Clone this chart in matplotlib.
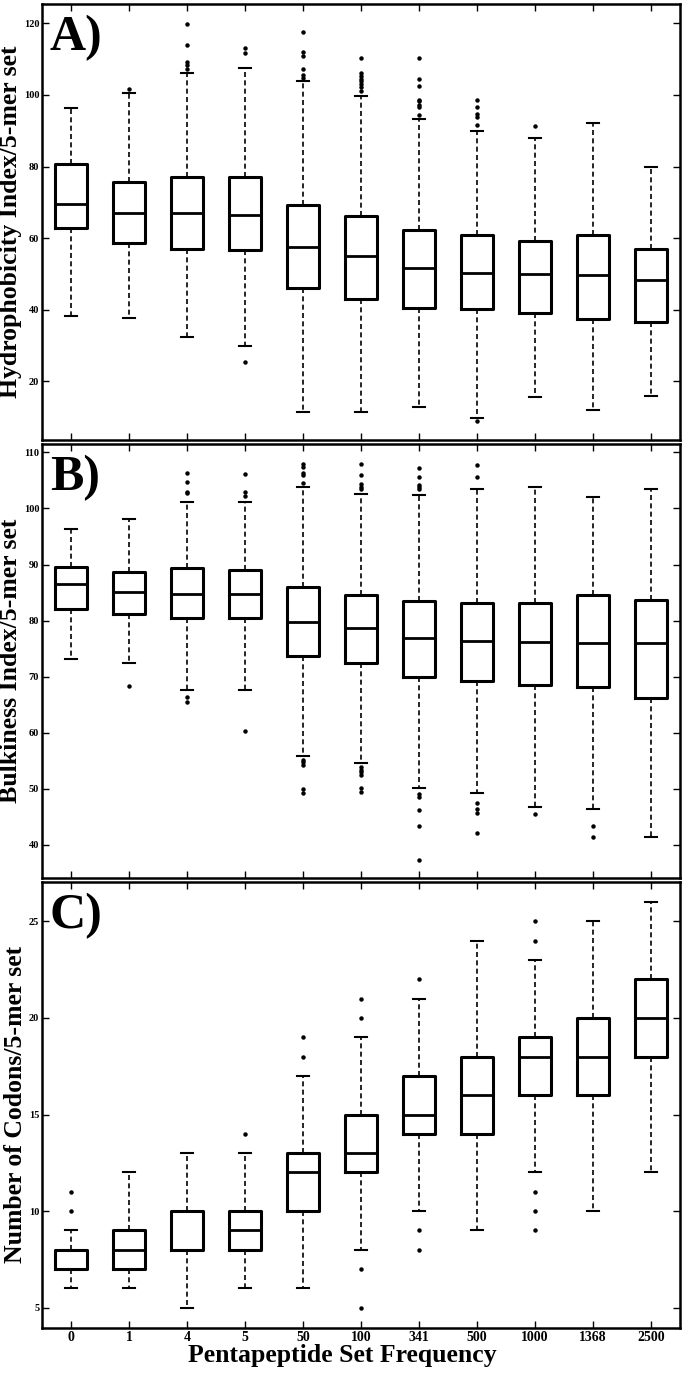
"""Three stacked box plots of 5-mer set properties vs pentapeptide set frequency."""
import matplotlib
matplotlib.use('Agg')
import matplotlib.pyplot as plt

FREQS = ['0', '1', '4', '5', '50', '100', '341', '500', '1000', '1368', '2500']

# A) hydrophobicity index
hyd_lo = [38.2, 37.6, 32.3, 29.8, 11.3, 11.3, 12.9, 9.7, 15.6, 12.0, 15.8]
hyd_q1 = [62.8, 58.5, 57.1, 56.6, 46.0, 43.0, 40.5, 40.1, 39.2, 37.5, 36.7]
hyd_med = [69.6, 67.1, 67.1, 66.4, 57.5, 55.0, 51.7, 50.3, 50.1, 49.8, 48.4]
hyd_q3 = [80.75, 75.8, 77.2, 77.2, 69.3, 66.3, 62.2, 60.8, 59.2, 61.0, 56.9]
hyd_hi = [96.4, 100.4, 106.2, 107.5, 104.0, 99.7, 93.2, 89.9, 87.9, 92.2, 79.9]
hyd_fliers = [
    [],
    [101.7],
    [119.9, 114.0, 109.1, 108.3, 107.2],
    [113.0, 111.8, 25.4],
    [117.5, 111.9, 111.0, 107.3, 105.6, 104.7],
    [110.4, 106.0, 105.3, 104.5, 103.8, 103.0, 102.1, 101.2],
    [110.4, 104.4, 102.6, 98.7, 98.2, 97.3, 96.5, 94.5],
    [98.6, 96.7, 94.8, 93.9, 91.5, 8.9],
    [91.4],
    [],
    [],
]

# B) bulkiness index
blk_lo = [73.1, 72.4, 67.6, 67.6, 55.8, 54.6, 50.2, 49.3, 46.8, 46.4, 41.4]
blk_q1 = [82.1, 81.25, 80.5, 80.4, 73.7, 72.4, 70.0, 69.2, 68.5, 68.1, 66.2]
blk_med = [86.6, 85.1, 84.8, 84.8, 79.8, 78.6, 76.8, 76.4, 76.1, 76.0, 76.0]
blk_q3 = [89.6, 88.75, 89.3, 89.1, 86.0, 84.6, 83.5, 83.1, 83.2, 84.5, 83.6]
blk_hi = [96.4, 98.2, 101.1, 101.1, 103.8, 102.6, 102.4, 103.5, 103.9, 102.0, 103.4]
blk_fliers = [
    [],
    [68.3],
    [106.4, 104.7, 102.9, 102.7, 66.4, 65.5],
    [106.2, 102.9, 102.2, 60.2],
    [107.9, 107.4, 106.25, 105.9, 104.5, 55.1, 54.8, 54.3, 49.9, 49.2],
    [107.9, 106.0, 104.4, 103.9, 103.5, 53.9, 53.3, 52.9, 52.4, 50.1, 49.4],
    [107.2, 105.7, 104.2, 103.8, 103.4, 49.1, 48.5, 46.1, 43.3, 37.3],
    [107.7, 105.7, 47.4, 46.4, 45.7, 42.1],
    [45.5],
    [43.3, 41.4],
    [],
]

# C) number of codons
cod_lo = [6, 6, 5, 6, 6, 8, 10, 9, 12, 10, 12]
cod_q1 = [7, 7, 8, 8, 10, 12, 14, 14, 16, 16, 18]
cod_med = [7, 8, 8, 9, 12, 13, 15, 16, 18, 18, 20]
cod_q3 = [8, 9, 10, 10, 13, 15, 17, 18, 19, 20, 22]
cod_hi = [9, 12, 13, 13, 17, 19, 21, 24, 23, 25, 26]
cod_fliers = [
    [11, 10],
    [],
    [],
    [14],
    [19, 18],
    [21, 20, 7, 5],
    [22, 9, 8],
    [],
    [25, 24, 11, 10, 9],
    [],
    [],
]

SERIF = ['Liberation Serif', 'DejaVu Serif']


def stats(lo, q1, med, q3, hi, fliers):
    return [dict(whislo=a, q1=b, med=c, q3=d, whishi=e, fliers=f)
            for a, b, c, d, e, f in zip(lo, q1, med, q3, hi, fliers)]


def draw(ax, st, ylim, yticks, ylabel, tag):
    ax.bxp(st, positions=range(1, len(st) + 1), widths=0.55, capwidths=0.22,
           boxprops=dict(color='k', linewidth=2.2),
           medianprops=dict(color='k', linewidth=2.0),
           whiskerprops=dict(color='k', linewidth=1.2, linestyle=(0, (3, 2))),
           capprops=dict(color='k', linewidth=1.5),
           flierprops=dict(marker='o', markerfacecolor='k', markeredgecolor='k',
                           markersize=2.2, linestyle='none'))
    ax.set_xlim(0.5, len(st) + 0.5)
    ax.set_ylim(*ylim)
    ax.set_yticks(yticks)
    ax.set_yticklabels([str(t) for t in yticks], fontfamily=SERIF, fontweight='bold', fontsize=7.5)
    ax.tick_params(direction='in', top=True, right=True, length=5, width=1, pad=2)
    for s in ax.spines.values():
        s.set_linewidth(1.8)
    ax.set_ylabel(ylabel, fontfamily=SERIF, fontweight='bold', fontsize=18.5, labelpad=1)
    ax.text(0.012, 0.975, tag, transform=ax.transAxes, ha='left', va='top',
            fontfamily=SERIF, fontweight='bold', fontsize=36)


def main():
    fig = plt.figure(figsize=(6.85, 13.76), dpi=100)
    left, width = 0.0613, 0.9314
    axA = fig.add_axes([left, 0.6802, width, 0.9971 - 0.6802])
    axB = fig.add_axes([left, 0.3617, width, 0.6773 - 0.3617])
    axC = fig.add_axes([left, 0.0349, width, 0.3592 - 0.0349])

    draw(axA, stats(hyd_lo, hyd_q1, hyd_med, hyd_q3, hyd_hi, hyd_fliers),
         (3.6, 125.4), [20, 40, 60, 80, 100, 120], 'Hydrophobicity Index/5-mer set', 'A)')
    draw(axB, stats(blk_lo, blk_q1, blk_med, blk_q3, blk_hi, blk_fliers),
         (34.0, 111.5), [40, 50, 60, 70, 80, 90, 100, 110], 'Bulkiness Index/5-mer set', 'B)')
    draw(axC, stats(cod_lo, cod_q1, cod_med, cod_q3, cod_hi, cod_fliers),
         (3.95, 27.05), [5, 10, 15, 20, 25], 'Number of Codons/5-mer set', 'C)')

    for ax in (axA, axB):
        ax.set_xticklabels([])
    axC.set_xticklabels(FREQS, fontfamily=SERIF, fontweight='bold', fontsize=10)
    axC.set_xlabel('Pentapeptide Set Frequency', fontfamily=SERIF, fontweight='bold',
                   fontsize=18.5, labelpad=1)
    axC.xaxis.set_label_coords(0.47, -0.036)

    fig.savefig('out.png', dpi=100)
    plt.close(fig)


if __name__ == '__main__':
    main()
